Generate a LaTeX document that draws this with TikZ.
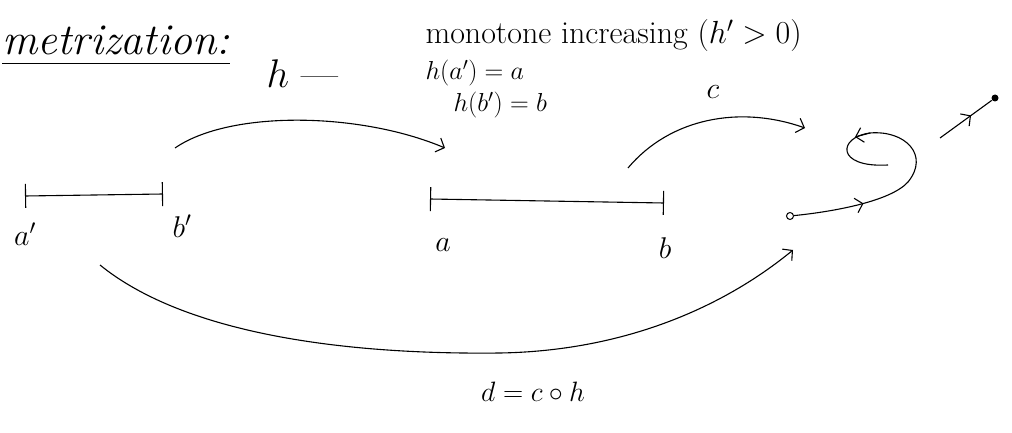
\RequirePackage{fix-cm}
\documentclass[tikz,border=0pt]{standalone}
\usetikzlibrary{arrows.meta,decorations.markings}
\begin{document}
\begin{tikzpicture}[x=1pt,y=-1pt,line width=1.1pt,
  lbl/.style={inner sep=0pt,font=\fontsize{30}{34}\selectfont},
  arr/.style={-{Straight Barb[length=7pt,width=15pt]}},
  barb/.style={{Bar[width=24pt]}-{Bar[width=24pt]}},
  dotpt/.style={circle,inner sep=0pt,minimum size=7pt},
  midarrows/.style={postaction={decorate},decoration={markings,
     mark=at position #1 with {\arrow{Straight Barb[length=7pt,width=15pt]}}}}]
\useasboundingbox (0,0) rectangle (1012,433);
% title
\node[lbl,anchor=base west,font=\fontsize{44}{48}\selectfont\itshape] (title) at (2,55) {metrization:};
\draw[line width=0.8pt] ([yshift=-8pt]title.base west) -- ([yshift=-8pt]title.base east);
% h labels
\node[lbl,anchor=base west,font=\fontsize{40}{44}\selectfont] (hlab) at (266,88) {$h$ ---};
\node[lbl,anchor=base west,font=\fontsize{32}{36}\selectfont] (mono) at (425,44) {monotone increasing $(h'>0)$};
\node[lbl,anchor=base west,font=\fontsize{26}{30}\selectfont] (ha) at (425,80) {$h(a')=a$};
\node[lbl,anchor=base west,font=\fontsize{26}{30}\selectfont] (hb) at (453,112) {$h(b')=b$};
% intervals
\coordinate (ap) at (25,196);
\coordinate (bp) at (163,194);
\coordinate (a) at (430,199);
\coordinate (b) at (664,203);
\draw[barb] (ap) -- (bp);
\draw[barb] (a) -- (b);
\node[lbl] (lap) at (25,234) {$a'$};
\node[lbl] (lbp) at (182,226) {$b'$};
\node[lbl] (la) at (443,245) {$a$};
\node[lbl] (lb) at (665,248) {$b$};
% arc h
\coordinate (hs) at (175,148);
\coordinate (he) at (445,148);
\draw[arr] (hs) .. controls (230,110) and (360,112) .. (he);
% arc c
\coordinate (cs) at (628,168);
\coordinate (ce) at (805,128);
\draw[arr] (cs) .. controls (670,118) and (740,105) .. (ce);
\node[lbl] (clab) at (713,92) {$c$};
% curve gamma
\node[draw,circle,inner sep=0pt,minimum size=7pt,line width=1pt] (g0) at (790,216) {};
\coordinate (g1) at (888,165);
\draw[midarrows=0.25] (g0) .. controls (830,212) and (890,202) .. (908,182)
   .. controls (930,155) and (905,130) .. (870,133)
   .. controls (838,137) and (835,168) .. (g1);
\draw[arr] (870,133) -- (855,137);
% ray to point
\node[dotpt,fill=black] (p) at (995,98) {};
\coordinate (q) at (940,138);
\draw[midarrows=0.6] (q) -- (p);
% arc d
\coordinate (ds) at (100,265);
\coordinate (de) at (793,250);
\draw[arr] (ds) .. controls (180,330) and (330,355) .. (500,353)
   .. controls (620,351) and (720,310) .. (de);
\node[lbl,font=\fontsize{28}{32}\selectfont] (dlab) at (533,392) {$d=c\circ h$};
\end{tikzpicture}
\end{document}
